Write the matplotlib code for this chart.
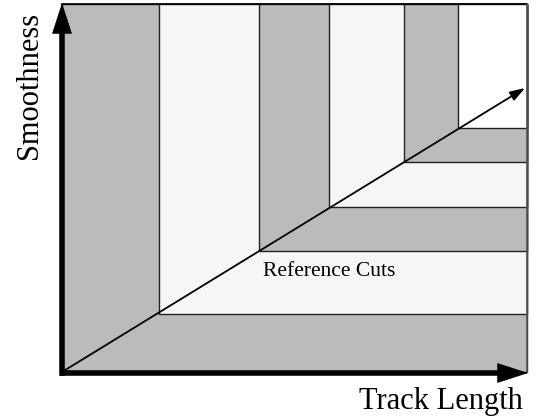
import matplotlib
matplotlib.use("Agg")
import matplotlib.pyplot as plt
from matplotlib.patches import Rectangle

# Data (pixel-like units along each axis)
track_cuts = [0, 97, 197, 267, 342, 396]
smooth_cuts = [0, 58, 121, 165, 210, 244]
track_max = 465
smooth_max = 368
band_colors = ["#bbbbbb", "#f6f6f6", "#bbbbbb", "#f6f6f6", "#bbbbbb", "#ffffff"]
arrow_end = (463, 284)
x_label = "Track Length"
y_label = "Smoothness"
band_label = "Reference Cuts"
band_label_pos = (201, 100)

plt.rcParams['font.family'] = ['Liberation Serif', 'DejaVu Serif']

W, H = 540, 420
fig = plt.figure(figsize=(W / 100, H / 100), dpi=100)
ax = fig.add_axes([62 / W, (H - 372) / H, track_max / W, smooth_max / H])
ax.set_xlim(0, track_max)
ax.set_ylim(0, smooth_max)
ax.axis("off")

for x0, y0, c in zip(track_cuts, smooth_cuts, band_colors):
    ax.add_patch(Rectangle((x0, y0), track_max - x0, smooth_max - y0,
                           facecolor=c, edgecolor="#222222", linewidth=1.0,
                           clip_on=False))

# top / right border
ax.plot([0, track_max], [smooth_max, smooth_max], color="black", lw=1.2, clip_on=False)
ax.plot([track_max, track_max], [0, smooth_max], color="#555555", lw=1.2, clip_on=False)

# diagonal arrow
ax.annotate("", xy=arrow_end, xytext=(0, 0),
            arrowprops=dict(arrowstyle="-|>,head_length=0.9,head_width=0.3",
                            color="black", lw=1.3, shrinkA=0, shrinkB=0),
            annotation_clip=False)

# axis arrows: thick shafts + slim heads
ax.plot([0, 0], [-1, smooth_max - 20], color="black", lw=4, clip_on=False,
        solid_capstyle="projecting")
ax.plot([-2, track_max - 20], [-1, -1], color="black", lw=4, clip_on=False,
        solid_capstyle="butt")
ax.annotate("", xy=(0, smooth_max + 1), xytext=(0, smooth_max - 25),
            arrowprops=dict(arrowstyle="-|>,head_length=2.1,head_width=0.68",
                            color="black", lw=0.5, shrinkA=0, shrinkB=0),
            annotation_clip=False)
ax.annotate("", xy=(track_max + 1, -1), xytext=(track_max - 25, -1),
            arrowprops=dict(arrowstyle="-|>,head_length=2.1,head_width=0.68",
                            color="black", lw=0.5, shrinkA=0, shrinkB=0),
            annotation_clip=False)

ax.text(band_label_pos[0], band_label_pos[1], band_label, fontsize=15.5,
        ha="left", va="center")

fig.text(523 / W, 1 - 409 / H, x_label, fontsize=22, ha="right", va="baseline")
fig.text(15 / W, 1 - 12 / H, y_label, fontsize=22, rotation=90, ha="left", va="top")

fig.savefig("out.png", dpi=100)
